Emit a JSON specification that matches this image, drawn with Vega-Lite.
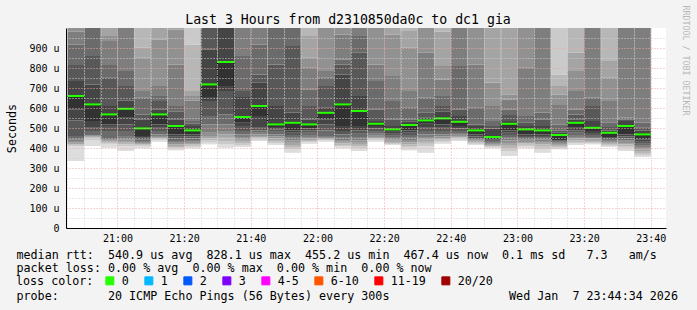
{
  "$schema": "https://vega.github.io/schema/vega-lite/v6.json",
  "width": 600,
  "height": 200,
  "autosize": "none",
  "padding": {"left": 66, "top": 28, "right": 31, "bottom": 82},
  "background": "#f3f3f3",
  "config": {"view": {"fill": "white", "stroke": null}},
  "title": {"text": "Last 3 Hours from d2310850da0c to dc1 gia", "font": "DejaVu Sans Mono", "fontSize": 13.2, "fontWeight": "normal", "color": "black", "anchor": "middle", "frame": "group", "dx": -18, "offset": -32, "baseline": "alphabetic"},
  "data": {
    "values": [
      {"t":"2026-01-07T20:45:00Z","t2":"2026-01-07T20:50:00Z","m":660,"loss":"0","p":[335,410,415,418,426,435,443,460,538,593,660,735,815,918,981,1050,1100,1200,1300,1500]},
      {"t":"2026-01-07T20:50:00Z","t2":"2026-01-07T20:55:00Z","m":618,"loss":"0","p":[410,440,448,453,456,459,463,485,501,535,618,718,860,1040,1090,1150,1250,1400,1600,1900]},
      {"t":"2026-01-07T20:55:00Z","t2":"2026-01-07T21:00:00Z","m":568,"loss":"0","p":[401,418,423,428,433,438,443,485,510,518,568,610,751,815,935,960,1020,1100,1200,1400]},
      {"t":"2026-01-07T21:00:00Z","t2":"2026-01-07T21:05:00Z","m":596,"loss":"0","p":[385,410,418,426,435,443,460,485,518,551,596,638,710,785,1030,1080,1150,1250,1400,1700]},
      {"t":"2026-01-07T21:05:00Z","t2":"2026-01-07T21:10:00Z","m":498,"loss":"0","p":[398,408,413,418,425,430,435,443,451,460,498,543,568,651,685,851,901,1030,1100,1300]},
      {"t":"2026-01-07T21:10:00Z","t2":"2026-01-07T21:15:00Z","m":568,"loss":"0","p":[431,438,443,448,455,460,468,485,501,518,568,593,635,660,710,943,1030,1100,1250,1500]},
      {"t":"2026-01-07T21:15:00Z","t2":"2026-01-07T21:20:00Z","m":510,"loss":"0","p":[388,398,405,410,418,426,435,446,456,468,510,543,581,610,818,993,1040,1100,1250,1500]},
      {"t":"2026-01-07T21:20:00Z","t2":"2026-01-07T21:25:00Z","m":488,"loss":"0","p":[398,406,411,418,425,431,440,448,458,468,488,510,521,535,638,660,685,918,1030,1150]},
      {"t":"2026-01-07T21:25:00Z","t2":"2026-01-07T21:30:00Z","m":718,"loss":"0","p":[418,428,438,448,460,476,518,560,635,655,718,893,1030,1080,1150,1250,1400,1600,1800,2100]},
      {"t":"2026-01-07T21:30:00Z","t2":"2026-01-07T21:35:00Z","m":830,"loss":"0","p":[401,418,435,451,468,485,518,568,685,710,830,1030,1080,1150,1250,1400,1600,1800,2100,2500]},
      {"t":"2026-01-07T21:35:00Z","t2":"2026-01-07T21:40:00Z","m":555,"loss":"0","p":[405,415,425,435,445,455,468,485,510,526,555,655,685,860,1030,1080,1150,1250,1400,1700]},
      {"t":"2026-01-07T21:40:00Z","t2":"2026-01-07T21:45:00Z","m":610,"loss":"0","p":[435,441,448,453,460,468,476,488,501,560,610,726,768,918,1030,1080,1150,1250,1400,1700]},
      {"t":"2026-01-07T21:45:00Z","t2":"2026-01-07T21:50:00Z","m":518,"loss":"0","p":[415,423,431,440,448,458,468,481,493,505,518,610,818,1030,1080,1150,1250,1400,1600,1900]},
      {"t":"2026-01-07T21:50:00Z","t2":"2026-01-07T21:55:00Z","m":526,"loss":"0","p":[376,393,405,415,426,438,451,465,476,488,526,576,910,1030,1080,1150,1250,1400,1600,1900]},
      {"t":"2026-01-07T21:55:00Z","t2":"2026-01-07T22:00:00Z","m":518,"loss":"0","p":[421,428,433,440,446,455,465,476,488,498,518,543,610,693,801,851,960,1030,1150,1350]},
      {"t":"2026-01-07T22:00:00Z","t2":"2026-01-07T22:05:00Z","m":576,"loss":"0","p":[431,438,441,445,450,455,460,488,518,543,576,601,710,751,785,1030,1080,1150,1300,1500]},
      {"t":"2026-01-07T22:05:00Z","t2":"2026-01-07T22:10:00Z","m":618,"loss":"0","p":[398,408,415,423,431,440,451,468,485,510,618,768,818,843,968,1030,1080,1150,1300,1500]},
      {"t":"2026-01-07T22:10:00Z","t2":"2026-01-07T22:15:00Z","m":585,"loss":"0","p":[385,398,408,416,426,438,451,471,488,510,585,660,876,960,1030,1080,1150,1250,1400,1700]},
      {"t":"2026-01-07T22:15:00Z","t2":"2026-01-07T22:20:00Z","m":521,"loss":"0","p":[431,438,443,448,455,461,471,485,498,510,521,535,593,735,818,1030,1080,1150,1300,1500]},
      {"t":"2026-01-07T22:20:00Z","t2":"2026-01-07T22:25:00Z","m":493,"loss":"0","p":[415,420,425,430,436,443,451,461,471,481,493,510,543,635,760,968,1030,1100,1250,1450]},
      {"t":"2026-01-07T22:25:00Z","t2":"2026-01-07T22:30:00Z","m":515,"loss":"0","p":[388,401,410,418,428,440,451,465,476,488,515,531,543,601,685,901,985,1030,1150,1350]},
      {"t":"2026-01-07T22:30:00Z","t2":"2026-01-07T22:35:00Z","m":538,"loss":"0","p":[376,410,421,431,443,455,468,485,501,521,538,551,576,651,876,1030,1080,1150,1300,1500]},
      {"t":"2026-01-07T22:35:00Z","t2":"2026-01-07T22:40:00Z","m":548,"loss":"0","p":[421,431,436,443,450,458,468,485,501,518,548,581,610,660,743,810,981,1030,1150,1350]},
      {"t":"2026-01-07T22:40:00Z","t2":"2026-01-07T22:45:00Z","m":531,"loss":"0","p":[435,441,448,453,460,466,475,485,498,510,531,560,593,810,1030,1080,1150,1250,1400,1700]},
      {"t":"2026-01-07T22:45:00Z","t2":"2026-01-07T22:50:00Z","m":488,"loss":"0","p":[415,420,423,428,433,438,443,450,458,468,488,510,518,601,818,1030,1080,1150,1300,1500]},
      {"t":"2026-01-07T22:50:00Z","t2":"2026-01-07T22:55:00Z","m":455,"loss":"0","p":[398,403,408,411,416,421,426,431,436,443,455,498,510,535,610,726,1030,1080,1200,1400]},
      {"t":"2026-01-07T22:55:00Z","t2":"2026-01-07T23:00:00Z","m":521,"loss":"0","p":[360,385,398,411,425,438,451,465,476,488,521,535,565,593,643,668,1030,1080,1200,1400]},
      {"t":"2026-01-07T23:00:00Z","t2":"2026-01-07T23:05:00Z","m":493,"loss":"0","p":[398,410,416,423,430,436,443,451,460,468,493,510,526,560,801,1030,1080,1150,1300,1500]},
      {"t":"2026-01-07T23:05:00Z","t2":"2026-01-07T23:10:00Z","m":488,"loss":"0","p":[376,393,406,418,426,435,443,451,460,468,488,510,543,576,1030,1080,1150,1250,1400,1700]},
      {"t":"2026-01-07T23:10:00Z","t2":"2026-01-07T23:15:00Z","m":465,"loss":"0","p":[393,398,403,408,413,418,423,428,433,438,465,476,488,518,615,668,710,768,1030,1150]},
      {"t":"2026-01-07T23:15:00Z","t2":"2026-01-07T23:20:00Z","m":526,"loss":"0","p":[415,423,430,438,446,455,465,476,488,501,526,543,568,593,685,785,876,1030,1150,1350]},
      {"t":"2026-01-07T23:20:00Z","t2":"2026-01-07T23:25:00Z","m":501,"loss":"0","p":[418,425,430,435,441,448,455,465,475,485,501,535,610,651,1030,1080,1150,1250,1400,1700]},
      {"t":"2026-01-07T23:25:00Z","t2":"2026-01-07T23:30:00Z","m":476,"loss":"0","p":[405,411,416,421,426,431,436,441,446,451,476,488,505,526,635,751,835,1030,1150,1350]},
      {"t":"2026-01-07T23:30:00Z","t2":"2026-01-07T23:35:00Z","m":510,"loss":"0","p":[385,401,410,418,425,431,438,448,458,468,510,535,543,551,1030,1080,1150,1250,1400,1700]},
      {"t":"2026-01-07T23:35:00Z","t2":"2026-01-07T23:40:00Z","m":468,"loss":"0","p":[355,365,375,385,393,401,411,421,431,443,468,488,501,526,1030,1080,1150,1250,1400,1700]}
    ]
  },
  "resolve": {"axis": {"y": "independent"}},
  "layer": [
    {
      "transform": [
        {"flatten": ["p"]},
        {"window": [{"op": "row_number", "as": "k"}, {"op": "lead", "field": "p", "as": "hi"}], "groupby": ["t"], "sort": [{"field": "p", "order": "ascending"}], "frame": [null, null]},
        {"filter": "isValid(datum.hi)"}
      ],
      "mark": {"type": "rect"},
      "encoding": {
        "x": {
          "field": "t", "type": "temporal",
          "scale": {"type": "utc", "domain": [1767818674000, 1767829474000]},
          "axis": {
            "tickCount": 36,
            "format": "%H:%M",
            "labelExpr": "(+datum.value - 1767819600000) % 1200000 === 0 ? datum.label : ''",
            "labelOverlap": false, "labelFlush": false, "labelPadding": 5, "labelAngle": 0,
            "labelFont": "DejaVu Sans Mono", "labelFontSize": 10, "labelColor": "black",
            "ticks": false,
            "domainColor": "black", "domainWidth": 1,
            "grid": true,
            "gridColor": {"condition": {"test": "(+datum.value - 1767819600000) % 1200000 === 0", "value": "#eba8a8"}, "value": "#d0d0d0"},
            "gridDash": [1, 2], "gridWidth": 1,
            "zindex": 1,
            "title": [
              "median\u00a0rtt:\u00a0\u00a0540.9\u00a0us\u00a0avg\u00a0\u00a0828.1\u00a0us\u00a0max\u00a0\u00a0455.2\u00a0us\u00a0min\u00a0\u00a0467.4\u00a0us\u00a0now\u00a0\u00a00.1\u00a0ms\u00a0sd\u00a0\u00a0\u00a07.3\u00a0\u00a0\u00a0am/s",
              "packet\u00a0loss:\u00a00.00\u00a0%\u00a0avg\u00a0\u00a00.00\u00a0%\u00a0max\u00a0\u00a00.00\u00a0%\u00a0min\u00a0\u00a00.00\u00a0%\u00a0now",
              "\u200b",
              "probe:\u00a0\u00a0\u00a0\u00a0\u00a0\u00a0\u00a020\u00a0ICMP\u00a0Echo\u00a0Pings\u00a0(56\u00a0Bytes)\u00a0every\u00a0300s\u00a0\u00a0\u00a0\u00a0\u00a0\u00a0\u00a0\u00a0\u00a0\u00a0\u00a0\u00a0\u00a0\u00a0\u00a0\u00a0\u00a0Wed\u00a0Jan\u00a0\u00a07\u00a023:44:34\u00a02026"
            ],
            "titleFont": "DejaVu Sans Mono", "titleFontSize": 11.7, "titleFontWeight": "normal", "titleColor": "black",
            "titleAlign": "left", "titleAnchor": "start", "titleX": -50, "titleY": 30, "titleBaseline": "alphabetic", "titleLineHeight": 13.67
          }
        },
        "x2": {"field": "t2"},
        "y": {
          "field": "p", "type": "quantitative",
          "scale": {"domain": [0, 1000], "nice": false, "clamp": true, "zero": true},
          "axis": {
            "orient": "left",
            "values": [0, 50, 100, 150, 200, 250, 300, 350, 400, 450, 500, 550, 600, 650, 700, 750, 800, 850, 900, 950],
            "labelExpr": "datum.value % 100 === 0 ? (datum.value === 0 ? '0\u00a0\u00a0' : datum.value + ' u') : ''",
            "labelOverlap": false, "labelFlush": false, "labelPadding": 7,
            "labelFont": "DejaVu Sans Mono", "labelFontSize": 10, "labelColor": "black",
            "ticks": false,
            "domainColor": "black", "domainWidth": 1,
            "grid": true,
            "gridColor": {"condition": {"test": "datum.value % 100 === 0", "value": "#eba8a8"}, "value": "#d0d0d0"},
            "gridDash": [1, 2], "gridWidth": 1,
            "zindex": 1,
            "title": "Seconds",
            "titleFont": "DejaVu Sans Mono", "titleFontSize": 11.7, "titleFontWeight": "normal", "titleColor": "black",
            "titleAngle": -90, "titleX": -51, "titleY": 100, "titleAlign": "center", "titleBaseline": "alphabetic"
          }
        },
        "y2": {"field": "hi"},
        "fill": {
          "field": "k", "type": "ordinal",
          "scale": {
            "domain": [1, 2, 3, 4, 5, 6, 7, 8, 9, 10, 11, 12, 13, 14, 15, 16, 17, 18, 19],
            "range": ["#dddddd", "#cacaca", "#b7b7b7", "#a4a4a4", "#919191", "#7e7e7e", "#6b6b6b", "#585858", "#454545", "#323232", "#454545", "#585858", "#6b6b6b", "#7e7e7e", "#919191", "#a4a4a4", "#b7b7b7", "#cacaca", "#dddddd"]
          },
          "legend": null
        }
      }
    },
    {
      "mark": {"type": "line", "interpolate": "step-after", "stroke": "black", "strokeWidth": 1, "strokeDash": [1, 1]},
      "encoding": {
        "x": {"field": "t", "type": "temporal"},
        "y": {
          "field": "m", "type": "quantitative",
          "axis": {
            "orient": "right", "labels": false, "ticks": false, "domain": false, "grid": false,
            "title": "RRDTOOL / TOBI OETIKER",
            "titleFont": "DejaVu Sans Mono", "titleFontSize": 8.3, "titleFontWeight": "normal", "titleColor": "#b8b8b8",
            "titleAngle": 90, "titleX": 16, "titleY": 32, "titleAlign": "center", "titleBaseline": "alphabetic"
          }
        }
      }
    },
    {
      "mark": {"type": "rule", "strokeWidth": 2},
      "encoding": {
        "x": {"field": "t", "type": "temporal"},
        "x2": {"field": "t2"},
        "y": {"field": "m", "type": "quantitative", "axis": null},
        "color": {
          "field": "loss", "type": "nominal",
          "scale": {"domain": ["0", "1", "2", "3", "4-5", "6-10", "11-19", "20/20"], "range": ["#26ff00", "#00b8ff", "#0059ff", "#7e00ff", "#ff00ff", "#ff5500", "#ff0000", "#a10000"]},
          "legend": {
            "title": "loss color:", "orient": "none", "legendX": -50, "legendY": 247, "direction": "horizontal", "gridAlign": "none",
            "titleOrient": "left", "titleFont": "DejaVu Sans Mono", "titleFontSize": 11.7, "titleFontWeight": "normal", "titleColor": "black", "titlePadding": 10,
            "labelFont": "DejaVu Sans Mono", "labelFontSize": 11.7, "labelColor": "black", "labelOffset": 6,
            "symbolType": "square", "symbolSize": 64, "symbolStrokeColor": "black", "symbolStrokeWidth": 1, "symbolOpacity": 1,
            "columnPadding": 13,
            "encode": {"symbols": {"update": {"fill": {"scale": "color", "field": "value"}, "stroke": {"value": "black"}, "strokeWidth": {"value": 1}}}}
          }
        }
      }
    }
  ]
}
